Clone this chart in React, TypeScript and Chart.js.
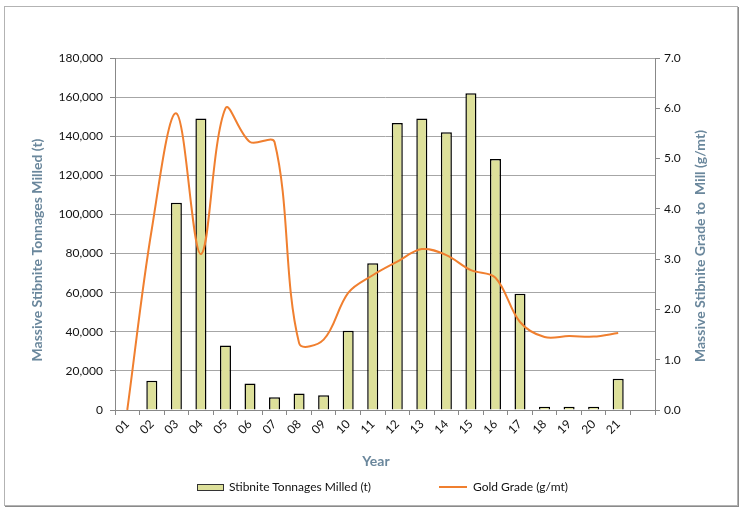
import { useEffect, useRef } from "react"
import { Chart, registerables, type ChartOptions, type Plugin } from "chart.js"
Chart.register(...registerables)

const YEARS = ["01", "02", "03", "04", "05", "06", "07", "08", "09", "10", "11", "12", "13", "14", "15", "16", "17", "18", "19", "20", "21", ""]
const TONNAGES = [null, 15000, 106000, 149000, 33000, 13500, 6500, 8500, 7500, 40500, 75000, 146700, 149000, 142000, 162000, 128300, 59500, 1700, 1700, 1700, 16000, null]
const GRADE = [0, 3.6, 5.9, 3.1, 6.0, 5.33, 5.33, 1.33, 1.4, 2.33, 2.68, 2.95, 3.2, 3.08, 2.78, 2.63, 1.75, 1.45, 1.47, 1.46, 1.53, null]

const BAR_LABEL = "Stibnite Tonnages Milled (t)"
const LINE_LABEL = "Gold Grade (g/mt)"
const X_TITLE = "Year"
const Y_TITLE = "Massive Stibnite Tonnages Milled (t)"
const Y1_TITLE = "Massive Stibnite Grade to  Mill (g/mt)"

const BAR_FILL = "#dde09a"
const LINE_COLOR = "#f07f2f"
const TITLE_COLOR = "#6a879c"
const FONT = "Lato, 'Liberation Sans', sans-serif"

// Excel-style axis titles: both vertical titles read bottom-to-top
const axisTitles: Plugin<"bar"> = {
  id: "axisTitles",
  afterDraw(chart) {
    const { ctx, chartArea } = chart
    ctx.save()
    ctx.font = `bold 14px ${FONT}`
    ctx.fillStyle = TITLE_COLOR
    ctx.textAlign = "center"
    ctx.textBaseline = "middle"
    const midY = (chartArea.top + chartArea.bottom) / 2 + 16
    ctx.save()
    ctx.translate(37, midY)
    ctx.rotate(-Math.PI / 2)
    ctx.fillText(Y_TITLE, 0, 0)
    ctx.restore()
    ctx.save()
    ctx.translate(chartArea.right + 45, midY - 4)
    ctx.rotate(-Math.PI / 2)
    ctx.fillText(Y1_TITLE, 0, 0)
    ctx.restore()
    ctx.fillText(X_TITLE, (chartArea.left + chartArea.right) / 2 - 9, chartArea.bottom + 51)
    ctx.restore()
  },
}

export default function App() {
  const canvasRef = useRef<HTMLCanvasElement>(null)
  const chartRef = useRef<Chart | null>(null)

  useEffect(() => {
    const canvas = canvasRef.current
    if (!canvas) return
    chartRef.current?.destroy()

    const tickFont = { family: FONT, size: 12 }

    const options: ChartOptions<"bar"> = {
      responsive: false,
      animation: false,
      layout: { padding: { top: 58, left: 0, right: 0, bottom: 0 } },
      plugins: { legend: { display: false }, tooltip: { enabled: false } },
      scales: {
        x: {
          afterFit: (s) => { s.height = 103 },
          grid: { offset: true, drawOnChartArea: false, drawTicks: true, tickLength: 5, color: "#888" },
          border: { color: "#888" },
          ticks: { color: "#111", font: tickFont, minRotation: 45, maxRotation: 45, autoSkip: false, padding: 2 },
        },
        y: {
          position: "left",
          min: 0,
          max: 180000,
          afterFit: (s) => { s.width = 115 },
          grid: { color: "#a6a6a6", tickLength: 5, tickColor: "#888" },
          border: { color: "#888" },
          ticks: {
            stepSize: 20000,
            color: "#111",
            font: tickFont,
            padding: 7,
            callback: (v) => Number(v).toLocaleString("en-US"),
          },
        },
        y1: {
          position: "right",
          min: 0,
          max: 7,
          afterFit: (s) => { s.width = 89 },
          grid: { drawOnChartArea: false, tickLength: 5, color: "#888" },
          border: { color: "#888" },
          ticks: {
            stepSize: 1,
            color: "#111",
            font: tickFont,
            padding: 4,
            callback: (v) => Number(v).toFixed(1),
          },
        },
      },
    }

    chartRef.current = new Chart(canvas, {
      type: "bar",
      data: {
        labels: YEARS,
        datasets: [
          {
            type: "bar",
            label: BAR_LABEL,
            data: TONNAGES,
            yAxisID: "y",
            backgroundColor: BAR_FILL,
            borderColor: "#000",
            borderWidth: 1.5,
            borderSkipped: "bottom",
            categoryPercentage: 1,
            barPercentage: 0.45,
            order: 2,
          },
          {
            type: "line",
            label: LINE_LABEL,
            data: GRADE as any,
            yAxisID: "y1",
            borderColor: LINE_COLOR,
            backgroundColor: LINE_COLOR,
            borderWidth: 2,
            pointRadius: 0,
            tension: 0.35,
            order: 1,
          } as any,
        ],
      },
      options,
      plugins: [axisTitles],
    })

    return () => { chartRef.current?.destroy() }
  }, [])

  return (
    <div style={{ position: "fixed", left: 0, top: 0, width: 744, height: 513, background: "#fff", fontFamily: FONT }}>
      <div
        style={{
          position: "absolute", left: 4, top: 6, width: 732, height: 498,
          border: "1px solid #b3b3b3", boxShadow: "1px 1px 0 #8a8a8a",
        }}
      />
      <canvas ref={canvasRef} width={744} height={513} style={{ position: "absolute", left: 0, top: 0 }} />
      <div style={{ position: "absolute", left: 197, top: 484, width: 25, height: 5, background: BAR_FILL, border: "1px solid #333" }} />
      <div style={{ position: "absolute", left: 229, top: 479, fontSize: 12, lineHeight: "16px", color: "#111" }}>{BAR_LABEL}</div>
      <div style={{ position: "absolute", left: 439, top: 486, width: 28, height: 2, background: LINE_COLOR }} />
      <div style={{ position: "absolute", left: 473, top: 479, fontSize: 12, lineHeight: "16px", color: "#111" }}>{LINE_LABEL}</div>
    </div>
  )
}
